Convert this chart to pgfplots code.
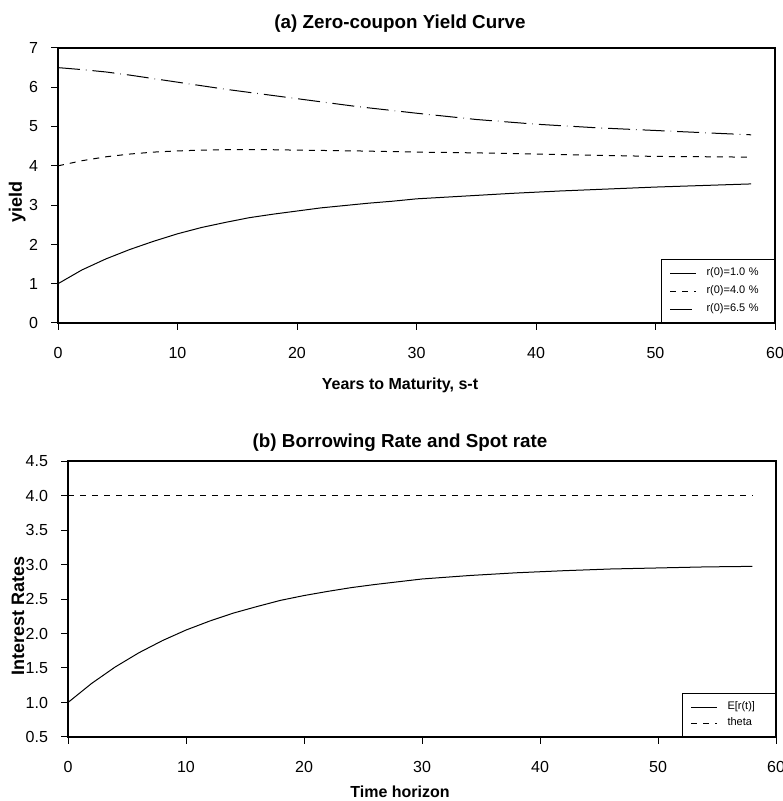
\documentclass[border=0pt]{standalone}
\usepackage{pgfplots}
\pgfplotsset{compat=1.18}
\usepackage{fontspec}
\setmainfont{Liberation Sans}
\begin{document}
\begin{tikzpicture}
\useasboundingbox (0pt,0pt) rectangle (391pt,400.5pt);
\pgfplotsset{
  every axis/.style={
    scale only axis,
    xmin=0, xmax=60, xtick={0,10,...,60},
    tick align=outside, major tick length=3.5pt, tick pos=left,
    tick style={black, line width=0.5pt},
    axis line style={line width=0.6pt},
    tick label style={font=\fontsize{8}{9}\selectfont},
    yticklabel style={xshift=-3pt},
    /pgf/number format/assume math mode=true,
    title style={font=\bfseries\fontsize{9.4}{10}\selectfont},
    xlabel style={font=\bfseries\fontsize{8}{9}\selectfont},
    ylabel style={font=\bfseries\fontsize{9}{10}\selectfont, anchor=center},
    legend style={at={(1,0)}, anchor=south east, font=\fontsize{5.5}{6}\selectfont,
      draw=black, line width=0.5pt, cells={anchor=west}, row sep=0pt,
      inner xsep=4pt,
      /tikz/every odd column/.append style={column sep=3pt}},
    legend image code/.code={\draw[#1] (0pt,0pt) -- (13pt,0pt);},
    legend image post style={line width=0.5pt},
  }
}
\begin{axis}[at={(29pt,239pt)}, anchor=south west, width=358.5pt, height=137.5pt,
  ymin=0, ymax=7, ytick={0,...,7},
  title={(a) Zero-coupon Yield Curve},
  title style={xshift=-8.25pt, yshift=-1.5pt},
  xlabel={Years to Maturity, s-t}, ylabel={yield},
  xlabel style={xshift=-8.25pt, yshift=-3pt},
  ylabel style={at={(axis description cs:-0.057,0.44)}},
  xticklabel style={yshift=-5pt},
  legend style={text width=28pt, row sep=-0.5pt}]
\addplot[black, line width=0.5pt] coordinates {(0,1.00) (2,1.35) (4,1.63) (6,1.87) (8,2.08) (10,2.27) (12,2.43) (14,2.56) (16,2.68) (18,2.77) (20,2.85) (22,2.93) (24,2.99) (26,3.05) (28,3.10) (30,3.16) (34,3.23) (38,3.30) (42,3.36) (46,3.41) (50,3.46) (54,3.50) (58,3.54)};
\addlegendentry{r(0)=1.0 \%}
\addplot[black, line width=0.5pt, dash pattern=on 3pt off 3pt] coordinates {(0,4.00) (2,4.13) (4,4.23) (6,4.30) (8,4.35) (10,4.38) (12,4.40) (14,4.41) (16,4.41) (18,4.41) (20,4.40) (25,4.38) (30,4.35) (35,4.33) (40,4.30) (45,4.27) (50,4.24) (55,4.23) (58,4.22)};
\addlegendentry{r(0)=4.0 \%}
\addplot[black, line width=0.5pt, dash pattern=on 11pt off 3pt on 0.3pt off 3pt] coordinates {(0,6.50) (2,6.45) (4,6.39) (6,6.31) (8,6.22) (10,6.13) (12,6.04) (14,5.95) (16,5.87) (18,5.79) (20,5.71) (25,5.51) (30,5.34) (35,5.18) (40,5.06) (45,4.97) (50,4.90) (55,4.83) (58,4.79)};
\addlegendentry{r(0)=6.5 \%}
\end{axis}
\begin{axis}[at={(34pt,32pt)}, anchor=south west, width=354pt, height=138pt,
  ymin=0.5, ymax=4.5, ytick={0.5,1,...,4.5},
  yticklabel style={/pgf/number format/.cd, fixed, fixed zerofill, precision=1},
  title={(b) Borrowing Rate and Spot rate},
  title style={xshift=-11pt, yshift=-5pt},
  xlabel={Time horizon}, ylabel={Interest Rates},
  xlabel style={xshift=-11pt, yshift=0pt},
  ylabel style={at={(axis description cs:-0.0706,0.44)}},
  xticklabel style={yshift=-5pt},
  legend style={text width=18pt, row sep=-1.5pt}]
\addplot[black, line width=0.5pt] coordinates {(0,1.00) (2,1.276) (4,1.515) (6,1.72) (8,1.897) (10,2.05) (12,2.18) (14,2.295) (16,2.39) (18,2.48) (20,2.55) (22,2.61) (24,2.665) (26,2.71) (28,2.75) (30,2.79) (34,2.84) (38,2.88) (42,2.91) (46,2.935) (50,2.95) (54,2.965) (58,2.973)};
\addlegendentry{E[r(t)]}
\addplot[black, line width=0.5pt, dash pattern=on 3pt off 3pt] coordinates {(0,4) (58,4)};
\addlegendentry{theta}
\end{axis}
\end{tikzpicture}
\end{document}
